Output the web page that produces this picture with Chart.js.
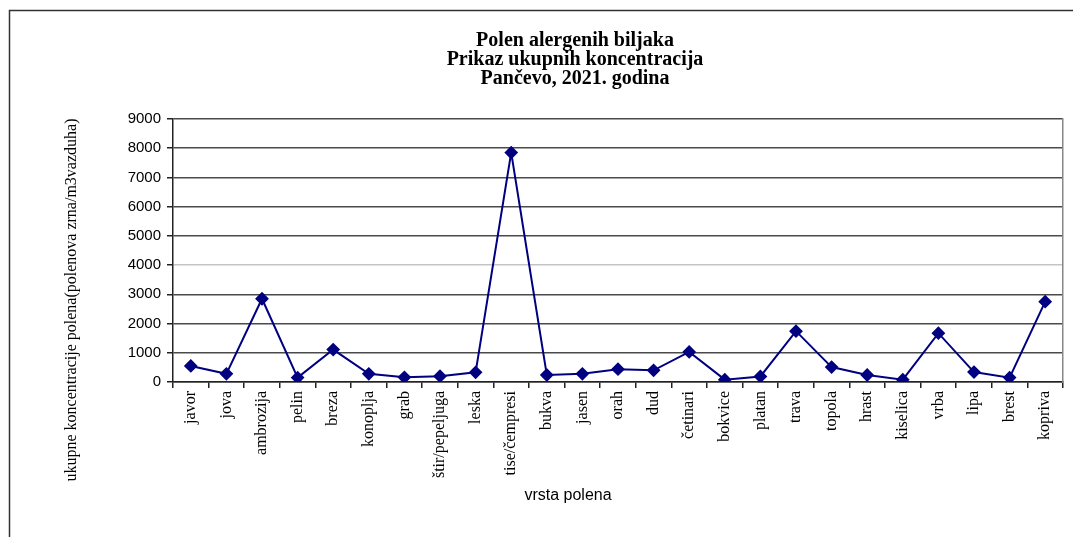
<!DOCTYPE html>
<html>
<head>
<meta charset="utf-8">
<script src="https://cdn.jsdelivr.net/npm/chart.js@4"></script>
<style>
  html, body { margin: 0; padding: 0; background: #fff; }
  #wrap { width: 1073px; height: 537px; }
</style>
</head>
<body>
<div id="wrap"><canvas id="chart"></canvas></div>
<script>
// vrsta polena
const labels = [
  'javor', 'jova', 'ambrozija', 'pelin', 'breza', 'konoplja', 'grab',
  'štir/pepeljuga', 'leska', 'tise/čempresi', 'bukva', 'jasen', 'orah',
  'dud', 'četinari', 'bokvice', 'platan', 'trava', 'topola', 'hrast',
  'kiselica', 'vrba', 'lipa', 'brest', 'kopriva',
];

// ukupne koncentracije (polenova zrna/m3 vazduha)
const totals = [
  550, 280, 2850, 150, 1110, 280, 160,
  200, 330, 7850, 240, 280, 440,
  400, 1030, 80, 190, 1740, 510, 240,
  80, 1670, 340, 150, 2750,
];

const titleLines = ['Polen alergenih biljaka', 'Prikaz ukupnih koncentracija', 'Pančevo, 2021. godina'];
const yTitle = 'ukupne koncentracije polena(polenova zrna/m3vazduha)';
const xTitle = 'vrsta polena';

const NAVY = '#000080';

// frame + titles drawn straight onto the canvas
const decorations = {
  id: 'decorations',
  beforeDraw(chart) {
    const ctx = chart.ctx;
    ctx.save();
    ctx.strokeStyle = '#333';
    ctx.lineWidth = 1.5;
    ctx.beginPath();
    ctx.moveTo(9.5, 537);
    ctx.lineTo(9.5, 10.5);
    ctx.lineTo(1073, 10.5);
    ctx.stroke();
    ctx.restore();
  },
  afterDraw(chart) {
    const ctx = chart.ctx;
    ctx.save();
    ctx.fillStyle = '#000';
    ctx.textAlign = 'center';
    ctx.textBaseline = 'middle';

    ctx.font = 'bold 20px "Liberation Serif"';
    titleLines.forEach((t, i) => ctx.fillText(t, 575, 41 + i * 19));

    ctx.font = '16px "Liberation Sans"';
    ctx.fillText(xTitle, 568, 496);

    ctx.translate(72, 300);
    ctx.rotate(-Math.PI / 2);
    ctx.font = '16px "Liberation Serif"';
    ctx.fillText(yTitle, 0, 0);
    ctx.restore();
  },
};

new Chart(document.getElementById('chart'), {
  type: 'line',
  data: {
    labels,
    datasets: [{
      data: totals,
      borderColor: NAVY,
      backgroundColor: NAVY,
      borderWidth: 2,
      pointStyle: 'rectRot',
      pointRadius: 5.5,
      pointHoverRadius: 5.5,
      pointBackgroundColor: NAVY,
      pointBorderColor: NAVY,
      tension: 0,
    }],
  },
  options: {
    responsive: true,
    maintainAspectRatio: false,
    animation: false,
    layout: { padding: { top: 119, left: 113, right: 9, bottom: 0 } },
    plugins: { legend: { display: false }, title: { display: false }, tooltip: { enabled: false } },
    scales: {
      x: {
        offset: true,
        grid: { offset: true, drawOnChartArea: false, tickLength: 6, tickColor: '#222', lineWidth: 1.5 },
        border: { color: '#222', width: 1.5 },
        ticks: {
          autoSkip: false, minRotation: 90, maxRotation: 90, padding: 3,
          color: '#000', font: { family: '"Liberation Serif"', size: 16 },
        },
        afterFit(scale) { scale.height = 155; },
      },
      y: {
        min: 0, max: 9000,
        ticks: {
          stepSize: 1000, padding: 6, color: '#000',
          font: { family: '"Liberation Sans"', size: 15 },
          callback: v => String(v),
        },
        grid: {
          color: c => (c.tick && c.tick.value === 4000 ? '#c4c4c4' : '#4a4a4a'),
          lineWidth: 1.5, tickLength: 6, tickColor: '#222',
        },
        border: { color: '#222', width: 1.5 },
        afterFit(scale) { scale.width = 60; },
      },
      y2: {
        position: 'right', min: 0, max: 9000,
        ticks: { display: false },
        grid: { drawOnChartArea: false, drawTicks: false },
        border: { color: '#888', width: 1.5 },
        afterFit(scale) { scale.width = 1; },
      },
    },
  },
  plugins: [decorations],
});
</script>
</body>
</html>
